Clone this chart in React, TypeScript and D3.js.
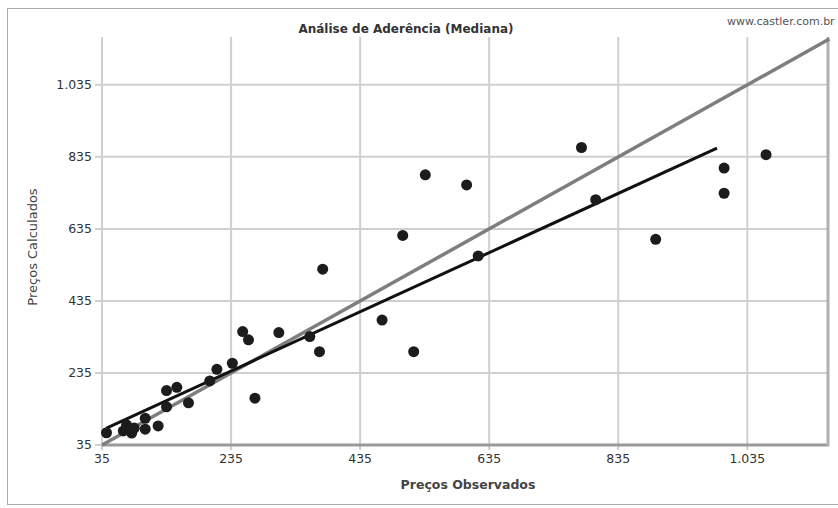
import React from "react";
import * as d3 from "d3";

const observed = [42, 73, 81, 75, 85, 68, 102, 102, 122, 135, 151, 135, 169, 202, 213, 237, 253, 262, 272, 309, 357, 372, 377, 469, 518, 501, 536, 600, 618, 778, 800, 893, 999, 999, 1064];
const calculated = [69, 91, 68, 77, 82, 74, 109, 79, 88, 186, 195, 141, 152, 213, 245, 262, 350, 327, 165, 347, 336, 294, 523, 382, 294, 617, 785, 757, 560, 861, 716, 606, 804, 734, 841];
const regressionX = [42, 988];
const regressionY = [82, 859];
const identityLine = [35, 1162];
const tickValues = [35, 235, 435, 635, 835, 1035];

const W = 838;
const H = 508;
const FONT = "'DejaVu Sans', Verdana, sans-serif";

export default function App() {
  const x = d3.scaleLinear().domain([35, 1160]).range([102, 828]);
  const y = d3.scaleLinear().domain([35, 1165]).range([445, 38]);
  const fmt = d3.formatLocale({ decimal: ",", thousands: ".", grouping: [3], currency: ["R$", ""] }).format(",d");
  const line = d3.line<[number, number]>().x((d) => x(d[0])).y((d) => y(d[1]));
  const regPts: [number, number][] = regressionX.map((v, i) => [v, regressionY[i]]);
  const idPts: [number, number][] = identityLine.map((v) => [v, v]);
  const plotTop = 37;
  const plotRight = 828;

  return (
    <svg width={W} height={H} style={{ position: "absolute", left: 0, top: 0, background: "#fff" }}>
      <rect x={7.5} y={8.5} width={W} height={496} fill="#fff" stroke="#aaa" strokeWidth={1} />
      {/* grid */}
      {tickValues.map((t) => (
        <line key={"gx" + t} x1={x(t)} x2={x(t)} y1={plotTop} y2={450} stroke="#cfcfcf" strokeWidth={2} />
      ))}
      {tickValues.map((t) => (
        <line key={"gy" + t} x1={95} x2={plotRight} y1={y(t)} y2={y(t)} stroke="#cfcfcf" strokeWidth={2} />
      ))}
      {/* axis frame */}
      <line x1={102} x2={plotRight + 1} y1={445} y2={445} stroke="#9a9a9a" strokeWidth={3} />
      <line x1={plotRight} x2={plotRight} y1={plotTop} y2={446} stroke="#b0b0b0" strokeWidth={3} />
      {/* tick labels */}
      {tickValues.map((t) => (
        <text key={"ty" + t} x={92} y={y(t)} dy="0.35em" textAnchor="end" fontFamily={FONT} fontSize={12.5} fill="#333">
          {fmt(t)}
        </text>
      ))}
      {tickValues.map((t) => (
        <text key={"tx" + t} x={x(t)} y={463} textAnchor="middle" fontFamily={FONT} fontSize={12.5} fill="#333">
          {fmt(t)}
        </text>
      ))}
      {/* identity line */}
      <path d={line(idPts) || ""} fill="none" stroke="#7e7e7e" strokeWidth={3.5} />
      {/* regression line */}
      <path d={line(regPts) || ""} fill="none" stroke="#111" strokeWidth={3} />
      {/* points */}
      {observed.map((v, i) => (
        <circle key={"p" + i} cx={x(v)} cy={y(calculated[i])} r={5.5} fill="#1c1c1c" />
      ))}
      {/* titles */}
      <text x={406} y={33} textAnchor="middle" fontFamily={FONT} fontWeight="bold" fontSize={12} fill="#333">
        Análise de Aderência (Mediana)
      </text>
      <text x={727} y={25} fontFamily={FONT} fontSize={11} fill="#555">
        www.castler.com.br
      </text>
      <text x={468} y={489} textAnchor="middle" fontFamily={FONT} fontWeight="bold" fontSize={12.5} fill="#444">
        Preços Observados
      </text>
      <text transform="translate(37,247) rotate(-90)" textAnchor="middle" fontFamily={FONT} fontSize={13} fill="#444">
        Preços Calculados
      </text>
    </svg>
  );
}
